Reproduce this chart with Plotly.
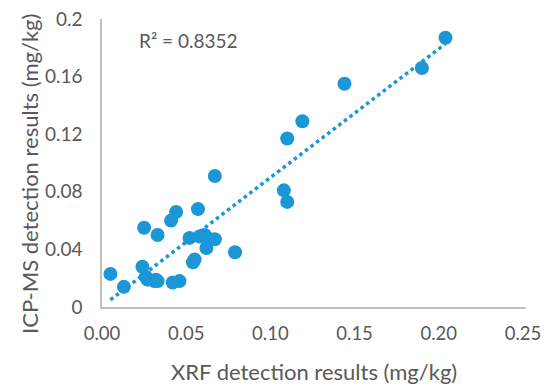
import numpy as np
import plotly.graph_objects as go

xrf = [0.005, 0.013, 0.024, 0.026, 0.027, 0.031, 0.032, 0.033, 0.025, 0.033,
       0.041, 0.044, 0.042, 0.046, 0.057, 0.052, 0.055, 0.054, 0.058, 0.061,
       0.064, 0.067, 0.062, 0.067, 0.079, 0.108, 0.110, 0.110, 0.119, 0.144,
       0.190, 0.204]
icpms = [0.023, 0.014, 0.028, 0.021, 0.019, 0.018, 0.019, 0.018, 0.055, 0.050,
         0.060, 0.066, 0.017, 0.018, 0.068, 0.048, 0.033, 0.031, 0.049, 0.050,
         0.047, 0.047, 0.041, 0.091, 0.038, 0.081, 0.073, 0.117, 0.129, 0.155,
         0.166, 0.187]

x_ticks = [0, 0.05, 0.10, 0.15, 0.20, 0.25]
y_ticks = [0, 0.04, 0.08, 0.12, 0.16, 0.2]
y_ticktext = ["0", "0.04", "0.08", "0.12", "0.16", "0.2"]

BLUE = "#1B96D6"
GRAY = "#595959"
AXIS = "#BFBFBF"
FONT = "Lato, 'Open Sans', sans-serif"

# the page body has an 8px margin; figure is sized to fit inside it
OFF = 8
W, H = 550 - 2 * OFF, 392 - 2 * OFF
ML = 102 - OFF
MT = 18.5 - OFF
MR = W - (526 - OFF)
MB = H - (307.5 - OFF)

x = np.array(xrf)
y = np.array(icpms)
slope, intercept = np.polyfit(x, y, 1)
tx = np.array([x.min(), x.max()])
ty = slope * tx + intercept

fig = go.Figure()
fig.add_trace(go.Scatter(x=tx, y=ty, mode="lines",
                         line=dict(color=BLUE, width=3.5, dash="dot"),
                         showlegend=False, hoverinfo="skip"))
fig.add_trace(go.Scatter(x=xrf, y=icpms, mode="markers",
                         marker=dict(color=BLUE, size=14, line=dict(width=0)),
                         showlegend=False))

fig.add_annotation(text="R² = 0.8352", x=0.021, y=0.185, xref="x", yref="y",
                   xanchor="left", yanchor="middle", showarrow=False,
                   font=dict(family=FONT, size=19, color=GRAY))

pw = W - ML - MR
ph = H - MT - MB


def px_to_paper(px, py):
    fx, fy = px - OFF, py - OFF
    return (fx - ML) / pw, ((H - MB) - fy) / ph


tx_p, ty_p = px_to_paper(314, 372)
fig.add_annotation(text="XRF detection results (mg/kg)", x=tx_p, y=ty_p,
                   xref="paper", yref="paper", xanchor="center", yanchor="middle",
                   showarrow=False, font=dict(family=FONT, size=22, color=GRAY))
yx_p, yy_p = px_to_paper(30, 174)
fig.add_annotation(text="ICP-MS detection results (mg/kg)", x=yx_p, y=yy_p,
                   xref="paper", yref="paper", xanchor="center", yanchor="middle",
                   textangle=-90,
                   showarrow=False, font=dict(family=FONT, size=22, color=GRAY))

fig.update_layout(
    width=W, height=H,
    margin=dict(l=ML, r=MR, t=MT, b=MB, autoexpand=False),
    paper_bgcolor="white", plot_bgcolor="white",
    font=dict(family=FONT, color=GRAY, size=19),
)
fig.update_xaxes(range=[0, 0.2518], tickvals=x_ticks, tickformat=".2f",
                 showgrid=False, zeroline=False, showline=True,
                 linecolor=AXIS, linewidth=1.5, ticks="", automargin=False,
                 ticklabelstandoff=9, ticklabeloverflow="allow",
                 tickfont=dict(size=18.5, color=GRAY))
fig.update_yaxes(range=[0, 0.2], tickvals=y_ticks, ticktext=y_ticktext,
                 showgrid=False, zeroline=False, showline=True,
                 linecolor=AXIS, linewidth=1.5, ticks="", automargin=False,
                 ticklabelstandoff=14, ticklabeloverflow="allow",
                 tickfont=dict(size=19, color=GRAY))

fig.write_html("out.html")
